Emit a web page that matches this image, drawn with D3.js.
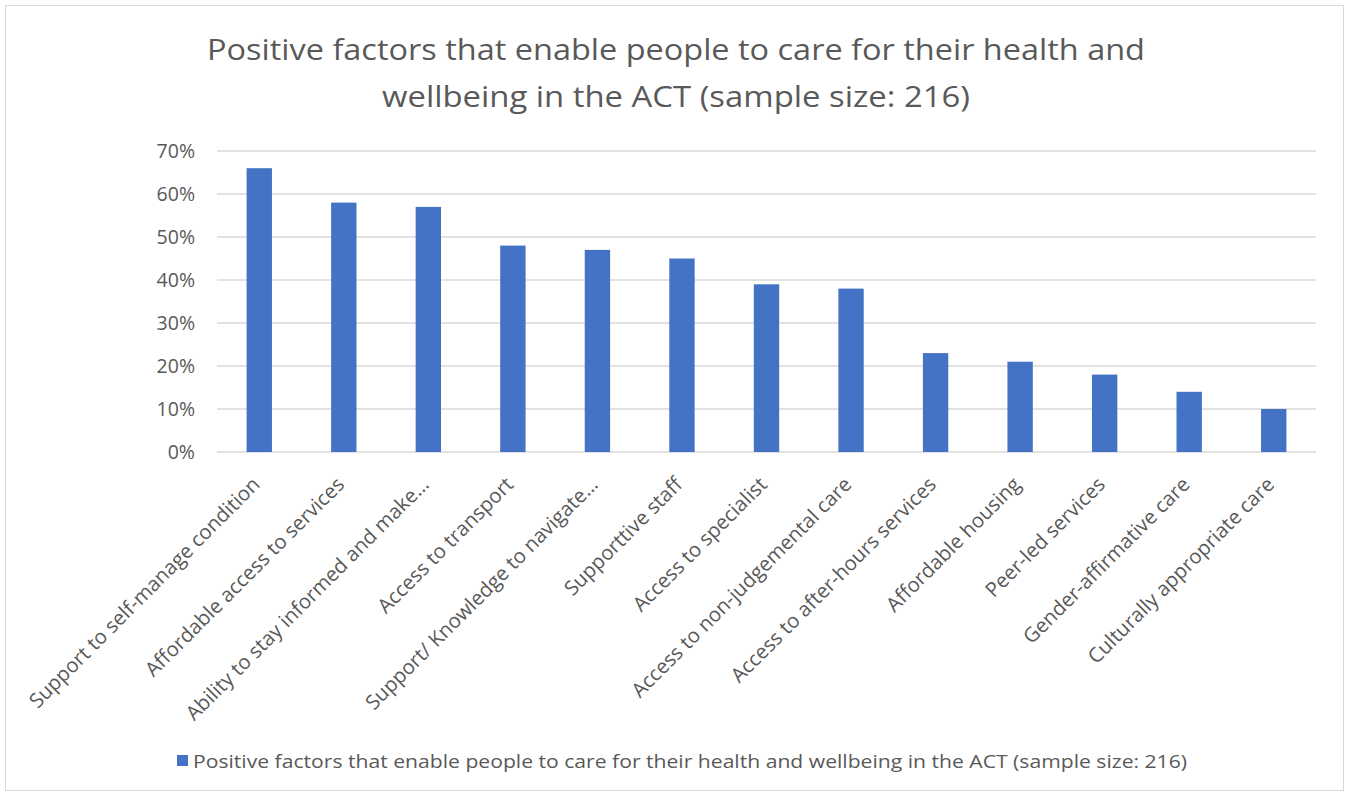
<!DOCTYPE html>
<html><head><meta charset="utf-8">
<script src="https://cdn.jsdelivr.net/npm/d3@7"></script>
<style>body{margin:0;background:#fff}svg{display:block}text{font-family:"Open Sans",sans-serif}</style>
</head><body>
<svg id="chart" width="1351" height="796"></svg>
<script>
const categories = ["Support to self-manage condition","Affordable access to services","Ability to stay informed and make…","Access to transport","Support/ Knowledge to navigate…","Supporttive staff","Access to specialist","Access to non-judgemental care","Access to after-hours services","Affordable housing","Peer-led services","Gender-affirmative care","Culturally appropriate care"];
const values = [0.66,0.58,0.57,0.48,0.47,0.45,0.39,0.38,0.23,0.21,0.18,0.14,0.10];
const yTicks = [0,0.1,0.2,0.3,0.4,0.5,0.6,0.7];
const titleLines = ["Positive factors that enable people to care for their health and","wellbeing in the ACT (sample size: 216)"];
const seriesName = "Positive factors that enable people to care for their health and wellbeing in the ACT (sample size: 216)";

const FONT = "'Open Sans',sans-serif";
const svg = d3.select("#chart");
svg.append("rect").attr("x",5.5).attr("y",5.5).attr("width",1338).attr("height",785).attr("fill","#fff").attr("stroke","#d9d9d9");

const x = d3.scaleBand().domain(categories).range([217,1316]).paddingInner(0.7).paddingOuter(0.35);
const y = d3.scaleLinear().domain([0,0.7]).range([452,151]);

svg.append("g").selectAll("line").data(yTicks).join("line")
  .attr("x1",217).attr("x2",1316).attr("y1",d=>y(d)).attr("y2",d=>y(d))
  .attr("stroke","#d9d9d9").attr("stroke-width",1.5);

svg.append("g").selectAll("rect").data(values).join("rect")
  .attr("x",(d,i)=>x(categories[i])).attr("width",x.bandwidth())
  .attr("y",d=>y(d)).attr("height",d=>y(0)-y(d)).attr("fill","#4472c4");

const yAxis = d3.axisLeft(y).tickValues(yTicks).tickFormat(d3.format(".0%")).tickSize(0).tickPadding(8);
svg.append("g").attr("transform","translate(203,0)").call(yAxis)
  .call(g=>g.select(".domain").remove())
  .call(g=>g.selectAll("text").attr("font-size",19.5).attr("fill","#595959").style("font-family",FONT));

const xAxis = d3.axisBottom(x).tickSize(0).tickPadding(0);
svg.append("g").attr("transform","translate(0,466)").call(xAxis)
  .call(g=>g.select(".domain").remove())
  .call(g=>g.selectAll("text").attr("font-size",20.3).attr("fill","#595959").style("font-family",FONT)
     .attr("text-anchor","end").attr("dy","0.75em").attr("transform","translate(-9,9) rotate(-45)"));

svg.append("text").attr("text-anchor","middle").attr("fill","#595959").attr("font-size",30)
  .selectAll("tspan").data(titleLines).join("tspan").attr("x",676).attr("y",(d,i)=>60+i*47)
  .attr("textLength",(d,i)=>i===0?938:588).attr("lengthAdjust","spacingAndGlyphs").text(d=>d);

const leg = svg.append("g");
leg.append("rect").attr("x",177).attr("y",755).attr("width",11).attr("height",11).attr("fill","#4472c4");
leg.append("text").attr("x",193).attr("y",768).attr("font-size",19).attr("fill","#595959")
  .attr("textLength",994).attr("lengthAdjust","spacingAndGlyphs").text(seriesName);
</script>
</body></html>
